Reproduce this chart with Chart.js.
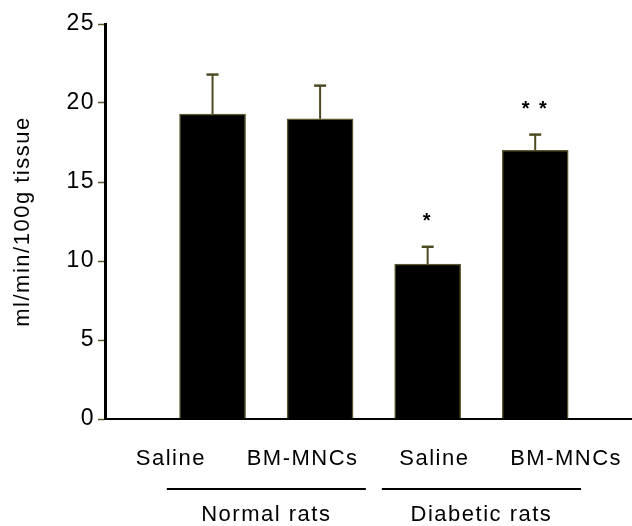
<!DOCTYPE html>
<html>
<head>
<meta charset="utf-8">
<script src="https://cdn.jsdelivr.net/npm/chart.js@4"></script>
<style>
  html, body { margin: 0; padding: 0; background: #fff; }
  #wrap { width: 632px; height: 526px; }
</style>
</head>
<body>
<div id="wrap"><canvas id="c" width="632" height="526"></canvas></div>
<script>
// Myocardial blood flow by treatment group
const categories = ['Saline', 'BM-MNCs', 'Saline', 'BM-MNCs'];
const groupNames = ['Normal rats', 'Diabetic rats'];
const groupOfCategory = [0, 0, 1, 1];
const bloodFlow = [19.3, 19.0, 9.8, 17.0];
const sem = [2.5, 2.1, 1.1, 1.0];
const significance = ['', '', '*', '* *'];
const yTicks = [0, 5, 10, 15, 20, 25];
const yTitle = 'ml/min/100g tissue';

const FONT = "'Liberation Sans', Arial, sans-serif";
const OLIVE = '#4d4a22';

// slightly open letter spacing for all canvas text
const spacing = {
  id: 'spacing',
  beforeUpdate(chart) { chart.ctx.letterSpacing = '1.5px'; },
  beforeDraw(chart) { chart.ctx.letterSpacing = '1.5px'; }
};

// SEM whiskers (upper only) and significance marks
const errorBars = {
  id: 'errorBars',
  afterDatasetsDraw(chart) {
    const meta = chart.getDatasetMeta(0);
    const y = chart.scales.y;
    const ctx = chart.ctx;
    ctx.save();
    ctx.strokeStyle = OLIVE;
    meta.data.forEach((bar, i) => {
      const top = y.getPixelForValue(bloodFlow[i]);
      const cap = y.getPixelForValue(bloodFlow[i] + sem[i]);
      ctx.lineWidth = 2;
      ctx.beginPath();
      ctx.moveTo(bar.x, top);
      ctx.lineTo(bar.x, cap);
      ctx.stroke();
      ctx.lineWidth = 2.5;
      ctx.beginPath();
      ctx.moveTo(bar.x - 6, cap);
      ctx.lineTo(bar.x + 6, cap);
      ctx.stroke();
      if (significance[i]) {
        ctx.font = 'bold 20px ' + FONT;
        ctx.fillStyle = '#000';
        ctx.textAlign = 'center';
        ctx.textBaseline = 'alphabetic';
        ctx.letterSpacing = '2px';
        ctx.fillText(significance[i], bar.x, cap - 31 + 11.5);
      }
    });
    ctx.restore();
  }
};

// group brackets under the category labels
const groupBrackets = {
  id: 'groupBrackets',
  afterDraw(chart) {
    const meta = chart.getDatasetMeta(0);
    const x = chart.scales.x;
    const ctx = chart.ctx;
    const base = chart.chartArea.bottom;
    const pitch = x.getPixelForValue(1) - x.getPixelForValue(0);
    ctx.save();
    groupNames.forEach((name, g) => {
      const xs = meta.data.filter((_, i) => groupOfCategory[i] === g).map(b => b.x);
      const center = xs.reduce((a, b) => a + b, 0) / xs.length;
      const half = pitch - 8;
      ctx.strokeStyle = '#000';
      ctx.lineWidth = 2;
      ctx.beginPath();
      ctx.moveTo(center - half, base + 70);
      ctx.lineTo(center + half, base + 70);
      ctx.stroke();
      ctx.font = '22px ' + FONT;
      ctx.fillStyle = '#000';
      ctx.textAlign = 'center';
      ctx.textBaseline = 'alphabetic';
      ctx.fillText(name, center, base + 102);
    });
    ctx.restore();
  }
};

new Chart(document.getElementById('c'), {
  type: 'bar',
  data: {
    labels: categories,
    datasets: [{
      data: bloodFlow.map((v, i) => ({ x: i + 1, y: v })),
      xAxisID: 'x',
      yAxisID: 'y',
      backgroundColor: '#000',
      borderColor: '#5a5730',
      borderWidth: 1.5,
      barThickness: 66
    }]
  },
  options: {
    responsive: false,
    animation: false,
    layout: { padding: { top: 24, right: 0, bottom: 0, left: 0 } },
    plugins: { legend: { display: false }, tooltip: { enabled: false } },
    scales: {
      x: {
        type: 'linear',
        position: 'bottom',
        offset: false,
        min: 0,
        max: 4.9,
        grid: { display: false, drawTicks: false },
        border: { display: true, color: '#000', width: 2 },
        ticks: { display: false },
        afterFit(s) { s.height = 0; }
      },
      xl: {
        type: 'category',
        position: 'bottom',
        offset: true,
        grid: { display: false, drawTicks: false },
        border: { display: false },
        ticks: { color: '#000', font: { family: FONT, size: 22 }, padding: 27, maxRotation: 0, autoSkip: false },
        afterFit(s) { s.height = 107; s.paddingLeft = 0; s.paddingRight = 0; }
      },
      y: {
        min: 0,
        max: 25,
        afterBuildTicks(s) { s.ticks = yTicks.map(v => ({ value: v })); },
        grid: { drawOnChartArea: false, drawTicks: true, tickLength: 7, tickColor: '#5a5730', tickWidth: 1.5 },
        border: { color: '#000', width: 3 },
        ticks: { color: '#000', font: { family: FONT, size: 23 }, padding: 3 },
        title: { display: true, text: yTitle, color: '#000', font: { family: FONT, size: 22 }, padding: { top: 10, bottom: 0 } },
        afterFit(s) { s.width = 105; }
      }
    }
  },
  plugins: [spacing, errorBars, groupBrackets]
});
</script>
</body>
</html>
